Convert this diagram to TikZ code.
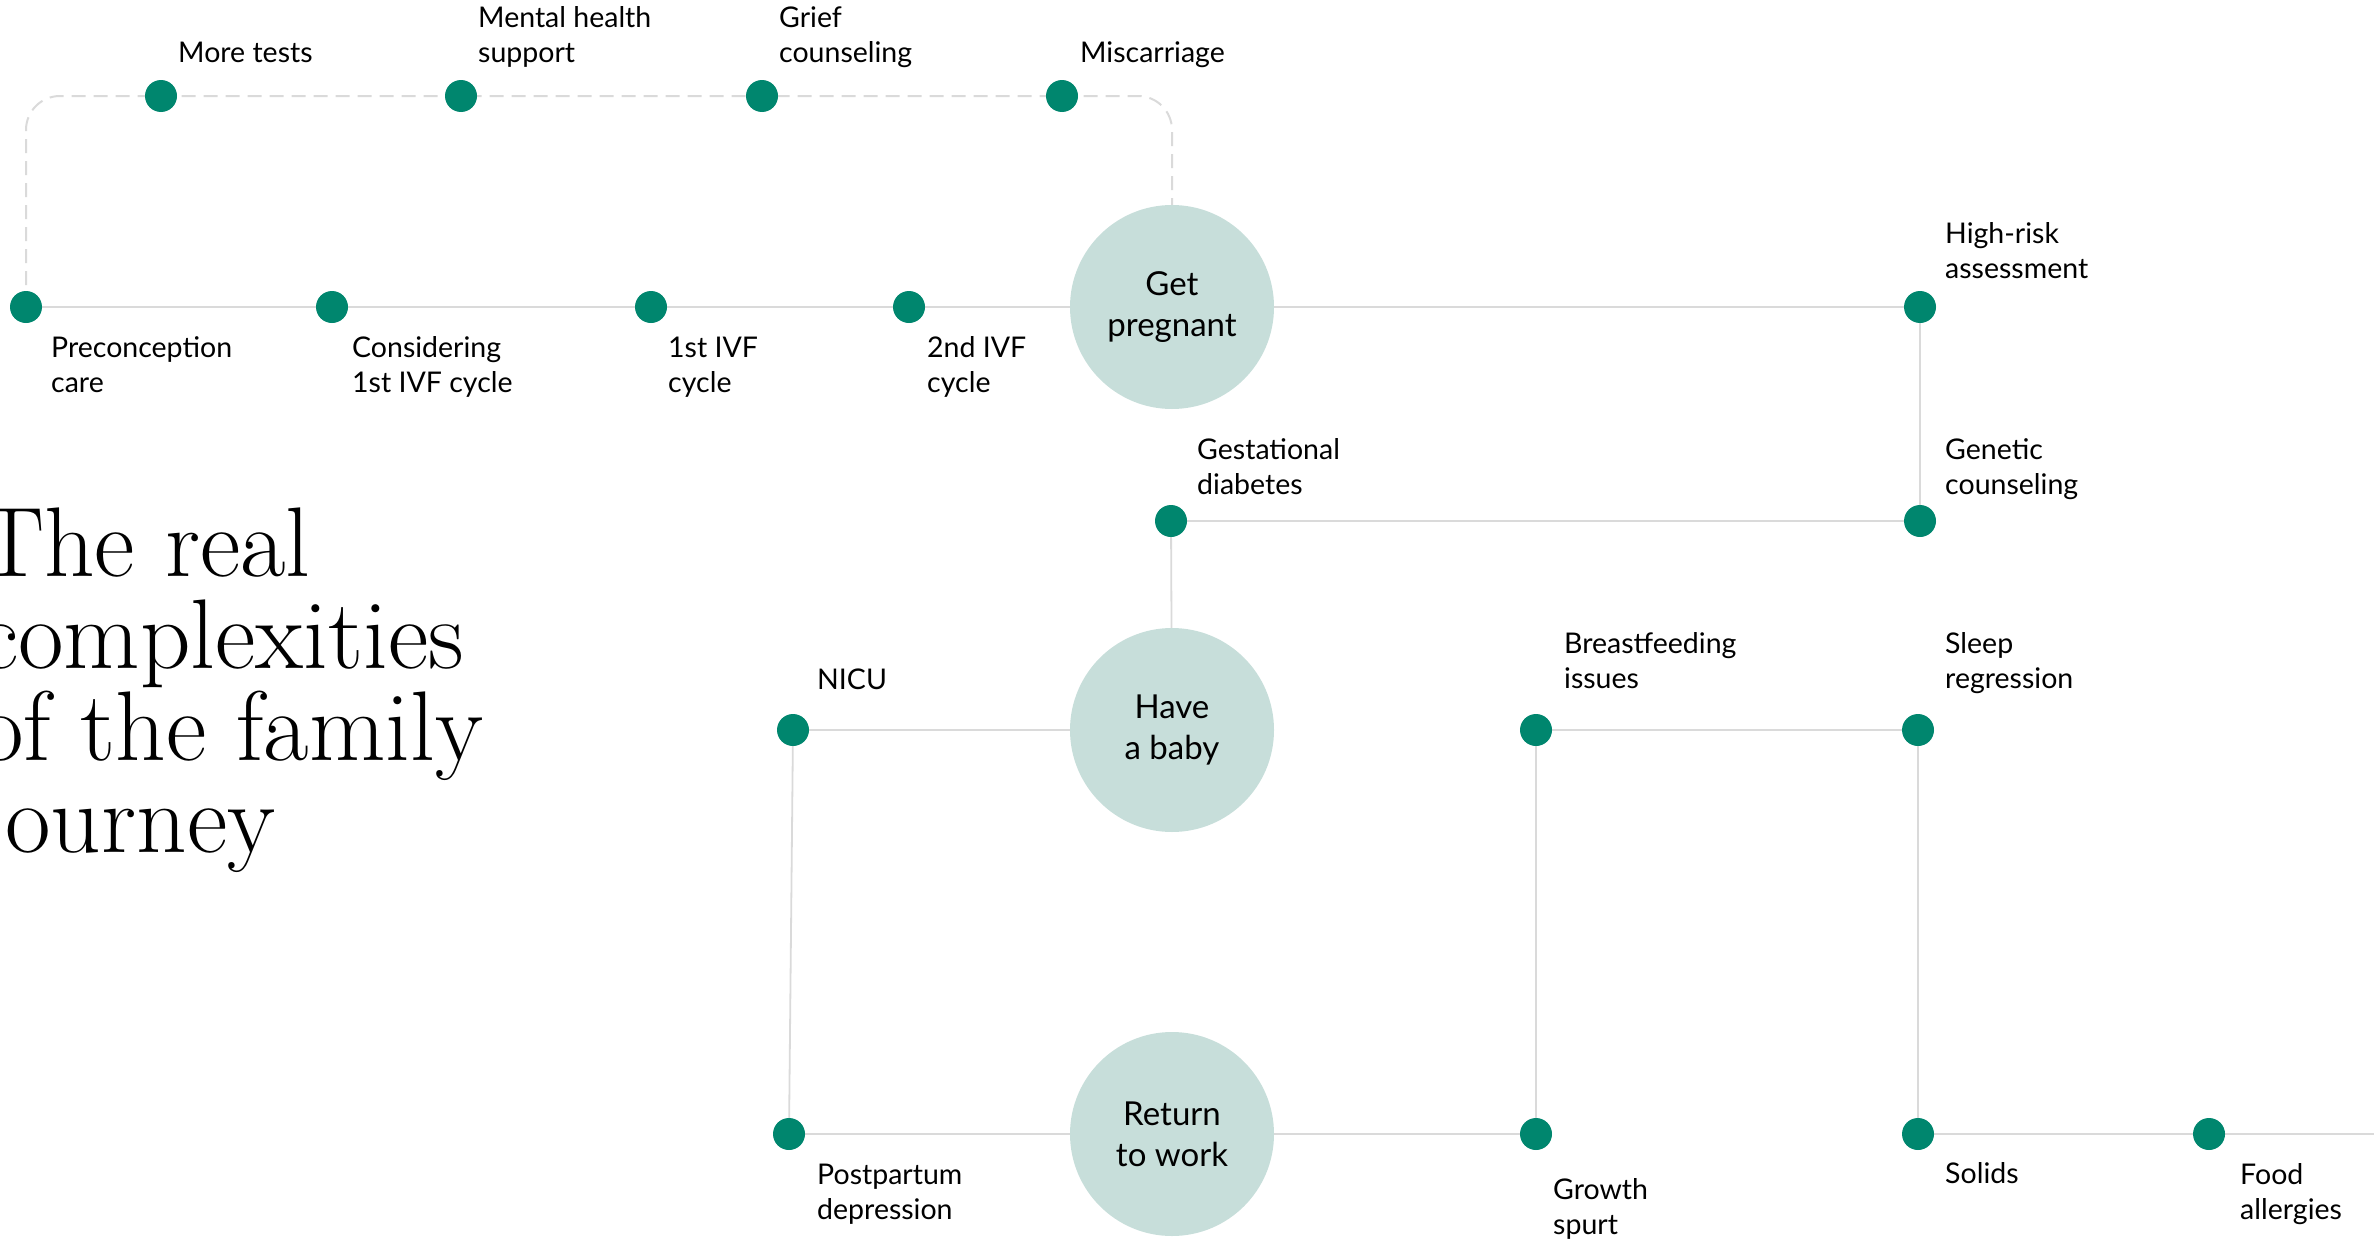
\documentclass[tikz,border=0pt]{standalone}
\usepackage{fontspec}
\newfontfamily\labfont{Lato}
\usetikzlibrary{backgrounds}
\definecolor{dotc}{HTML}{00866E}
\definecolor{bubble}{HTML}{C7DEDA}
\definecolor{linec}{HTML}{DADADA}
\begin{document}
\begin{tikzpicture}[x=1pt,y=-1pt,
  dotn/.style={circle,fill=dotc,minimum size=32pt,inner sep=0pt},
  bub/.style={circle,fill=bubble,minimum size=204pt,inner sep=0pt,align=center,font=\labfont\fontsize{33}{41}\selectfont},
  lab/.style={inner sep=0pt,align=left,anchor=base west,font=\labfont\fontsize{28.5}{35}\selectfont},
  hconn/.style={draw=linec,line width=2.6pt},
  vconn/.style={draw=linec,line width=1.8pt},
  dconn/.style={draw=linec,line width=2pt,dash pattern=on 14pt off 8pt,rounded corners=34pt},
  titlestyle/.style={inner sep=0pt,align=left,anchor=base west,font=\fontsize{99}{92}\selectfont}]
\useasboundingbox (0,0) rectangle (2374,1239);
% top dashed row
\node[dotn] (mt) at (161,96) {};
\node[dotn] (mh) at (461,96) {};
\node[dotn] (gc) at (762,96) {};
\node[dotn] (mc) at (1062,96) {};
% main row
\node[dotn] (pre) at (26,307) {};
\node[dotn] (con) at (332,307) {};
\node[dotn] (ivf1) at (651,307) {};
\node[dotn] (ivf2) at (909,307) {};
\node[bub] (gp) at (1172,307) {Get\\pregnant};
\node[dotn] (hr) at (1920,307) {};
\node[dotn] (gen) at (1920,521) {};
\node[dotn] (gd) at (1171,521) {};
\node[bub] (hb) at (1172,730) {Have\\a baby};
\node[dotn] (nicu) at (793,730) {};
\node[dotn] (pp) at (789,1134) {};
\node[bub] (rw) at (1172,1134) {Return\\to work};
\node[dotn] (gs) at (1536,1134) {};
\node[dotn] (bf) at (1536,730) {};
\node[dotn] (sr) at (1918,730) {};
\node[dotn] (so) at (1918,1134) {};
\node[dotn] (fa) at (2209,1134) {};
\coordinate (redge) at (2374,1134);
% connectors
\begin{pgfonlayer}{background}
\draw[dconn] (pre.center) -- (pre.center |- mt.center) -- (gp.center |- mt.center) -- (gp.north);
\draw[hconn] (pre) -- (con) -- (ivf1) -- (ivf2) -- (gp);
\draw[hconn] (gp) -- (hr);
\draw[vconn] (hr) -- (gen);
\draw[hconn] (gen) -- (gd);
\draw[vconn] (gd) -- (hb);
\draw[hconn] (hb) -- (nicu);
\draw[vconn] (nicu) -- (pp);
\draw[hconn] (pp) -- (rw);
\draw[hconn] (rw) -- (gs);
\draw[vconn] (gs) -- (bf);
\draw[hconn] (bf) -- (sr);
\draw[vconn] (sr) -- (so);
\draw[hconn] (so) -- (fa) -- (redge);
\end{pgfonlayer}
% labels (anchor = baseline of last line)
\node[lab] (lmt) at (178,63) {More tests};
\node[lab] (lmh) at (478,63) {Mental health\\support};
\node[lab] (lgc) at (779,63) {Grief\\counseling};
\node[lab] (lmc) at (1080,63) {Miscarriage};
\node[lab] (lpre) at (51,392) {Preconception\\care};
\node[lab] (lcon) at (352,392) {Considering\\1st IVF cycle};
\node[lab] (livf1) at (668,392) {1st IVF\\cycle};
\node[lab] (livf2) at (927,392) {2nd IVF\\cycle};
\node[lab] (lhr) at (1945,278) {High-risk\\assessment};
\node[lab] (lgd) at (1197,494) {Gestational\\diabetes};
\node[lab] (lgen) at (1945,494) {Genetic\\counseling};
\node[lab] (lnicu) at (817,689) {NICU};
\node[lab] (lbf) at (1564,688) {Breastfeeding\\issues};
\node[lab] (lsr) at (1945,688) {Sleep\\regression};
\node[lab] (lpp) at (817,1219) {Postpartum\\depression};
\node[lab] (lgs) at (1553,1234) {Growth\\spurt};
\node[lab] (lso) at (1945,1183) {Solids};
\node[lab] (lfa) at (2240,1219) {Food\\allergies};
% title
\node[titlestyle] (title) at (-22,852) {The real\\complexities\\of the family\\journey};
\end{tikzpicture}
\end{document}
